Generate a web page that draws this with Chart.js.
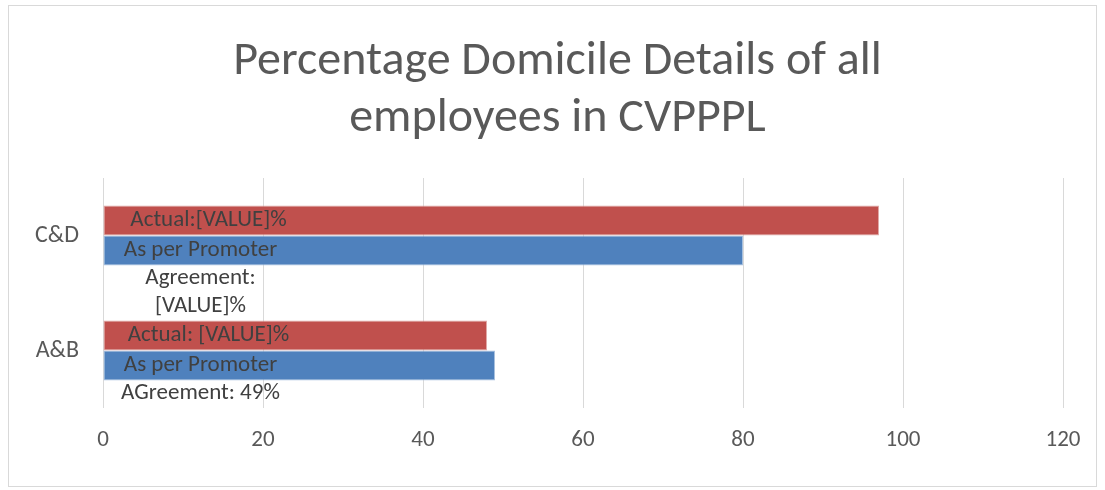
<!DOCTYPE html>
<html>
<head>
<meta charset="utf-8">
<script src="https://cdn.jsdelivr.net/npm/chart.js@4"></script>
<style>
  body { margin: 0; background: #fff; }
  #wrap { width: 1105px; height: 490px; position: relative; }
</style>
</head>
<body>
<div id="wrap"><canvas id="domicileChart"></canvas></div>
<script>
const categories = ['C&D', 'A&B'];
const actualValues = [97, 48];
const promoterValues = [80, 49];
const actualLabels = ['Actual:[VALUE]%', 'Actual: [VALUE]%'];
const promoterLabels = [['As per Promoter', 'Agreement:', '[VALUE]%'], ['As per Promoter', 'AGreement: 49%']];
const titleLines = ['Percentage Domicile Details of all', 'employees in CVPPPL'];

const fontFamily = 'Calibri, Carlito, Lato, sans-serif';

// frame round the whole chart, plus the title centred on the frame
const framePlugin = {
    id: 'frame',
    beforeDraw(chart) {
        const c = chart.ctx;
        c.save();
        c.fillStyle = '#fff';
        c.fillRect(0, 0, chart.width, chart.height);
        c.strokeStyle = '#d9d9d9';
        c.lineWidth = 1;
        c.strokeRect(8.5, 5.5, chart.width - 17, chart.height - 9);

        c.font = '48px ' + fontFamily;
        c.fillStyle = '#595959';
        c.textAlign = 'center';
        c.textBaseline = 'middle';
        titleLines.forEach((line, i) => {
            c.fillText(line, chart.width / 2 + 5, 62 + i * 57);
        });
        c.restore();
    }
};

// the odd data labels from the original
const barLabelPlugin = {
    id: 'barLabels',
    afterDatasetsDraw(chart) {
        const c = chart.ctx;
        c.save();
        c.font = '23px ' + fontFamily;
        c.fillStyle = '#404040';
        c.textAlign = 'center';
        c.textBaseline = 'middle';
        chart.getDatasetMeta(0).data.forEach((bar, i) => {
            c.fillText(actualLabels[i], bar.base + 105, bar.y);
        });
        chart.getDatasetMeta(1).data.forEach((bar, i) => {
            promoterLabels[i].forEach((line, k) => {
                c.fillText(line, bar.base + 97, bar.y + k * 28);
            });
        });
        c.restore();
    }
};

new Chart(document.getElementById('domicileChart'), {
    type: 'bar',
    data: {
        labels: categories,
        datasets: [
            {
                label: 'Actual',
                data: actualValues,
                backgroundColor: '#C0504D',
                borderColor: '#e0a9a7',
                borderWidth: 1,
                borderSkipped: false,
                categoryPercentage: 0.52,
                barPercentage: 1
            },
            {
                label: 'As per Promoter Agreement',
                data: promoterValues,
                backgroundColor: '#4F81BD',
                borderColor: '#a7c0de',
                borderWidth: 1,
                borderSkipped: false,
                categoryPercentage: 0.52,
                barPercentage: 1
            }
        ]
    },
    options: {
        indexAxis: 'y',
        responsive: true,
        maintainAspectRatio: false,
        animation: false,
        layout: { padding: { left: 0, right: 42, top: 178, bottom: 0 } },
        plugins: {
            legend: { display: false },
            tooltip: { enabled: false },
            title: { display: false }
        },
        scales: {
            x: {
                min: 0,
                max: 120,
                ticks: {
                    stepSize: 20,
                    color: '#595959',
                    font: { family: fontFamily, size: 23 },
                    padding: 18
                },
                grid: { color: '#d9d9d9', lineWidth: 1, drawTicks: false },
                border: { display: false },
                afterFit(scale) { scale.height = 82; }
            },
            y: {
                ticks: {
                    color: '#595959',
                    font: { family: fontFamily, size: 24 },
                    padding: 24
                },
                grid: { display: false, drawTicks: false },
                border: { display: false },
                afterFit(scale) { scale.width = 103; }
            }
        }
    },
    plugins: [framePlugin, barLabelPlugin]
});
</script>
</body>
</html>
